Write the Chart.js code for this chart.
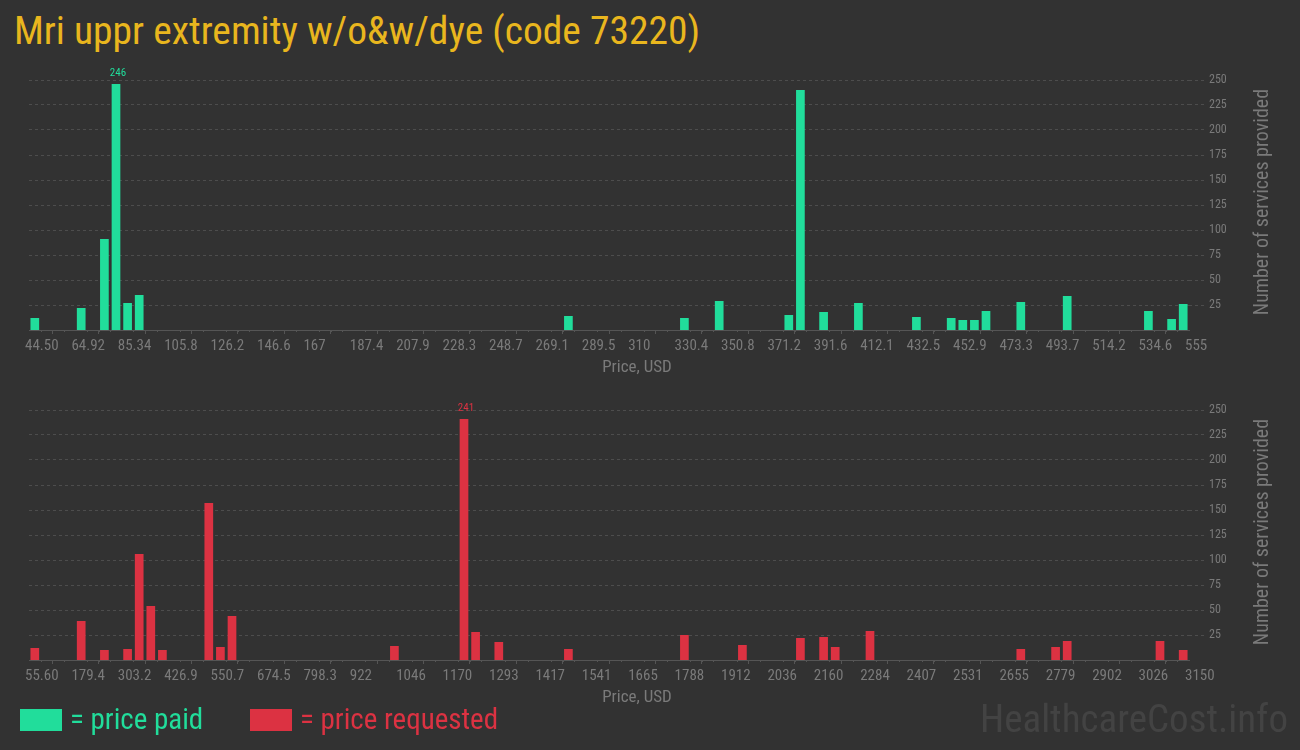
<!DOCTYPE html>
<html>
<head>
<meta charset="utf-8">
<script src="https://cdn.jsdelivr.net/npm/chart.js@4.4.1/dist/chart.umd.min.js"></script>
<style>
  body { margin: 0; background: #323232; width: 1300px; height: 750px; overflow: hidden; position: relative; }
  .narrow { font-family: "Roboto Condensed", "Liberation Sans Narrow", "DejaVu Sans Condensed", Roboto, sans-serif; }
  #title { position: absolute; left: 14px; top: 7px; font-size: 39.5px; color: #e9b61e; white-space: nowrap; }
  .box { position: absolute; left: 0; width: 1300px; height: 325px; }
  .legend { position: absolute; top: 702px; font-size: 29px; white-space: nowrap; }
  .legend span.sw { display: inline-block; width: 42px; height: 22px; vertical-align: -2px; margin-right: 8px; }
  #mark { position: absolute; left: 980px; top: 696px; font-size: 39px; color: #434343; white-space: nowrap; }
</style>
</head>
<body>
<div id="title" class="narrow">Mri uppr extremity w/o&amp;w/dye (code 73220)</div>
<div class="box" style="top:60px"><canvas id="paidChart" width="1300" height="325"></canvas></div>
<div class="box" style="top:390px"><canvas id="requestedChart" width="1300" height="325"></canvas></div>
<div class="legend narrow" style="left:20px;color:#21dd9b"><span class="sw" style="background:#21dd9b"></span>= price paid</div>
<div class="legend narrow" style="left:250px;color:#dc3242"><span class="sw" style="background:#dc3242"></span>= price requested</div>
<div id="mark" class="narrow">HealthcareCost.info</div>
<script>
const binCount = 100;

// price paid: histogram bin index -> number of services
const paidBins = [0, 4, 6, 7, 8, 9, 46, 56, 59, 65, 66, 68, 71, 76, 79, 80, 81, 82, 85, 89, 96, 98, 99];
const paidCounts = [12, 22, 91, 246, 27, 35, 14, 12, 29, 15, 240, 18, 27, 13, 12, 10, 10, 19, 28, 34, 19, 11, 26];
const paidTicks = ['44.50', '64.92', '85.34', '105.8', '126.2', '146.6', '167', '187.4', '207.9', '228.3', '248.7',
  '269.1', '289.5', '310', '330.4', '350.8', '371.2', '391.6', '412.1', '432.5', '452.9', '473.3', '493.7',
  '514.2', '534.6', '555'];

// price requested
const requestedBins = [0, 4, 6, 8, 9, 10, 11, 15, 16, 17, 31, 37, 38, 40, 46, 56, 61, 66, 68, 69, 72, 85, 88, 89, 97, 99];
const requestedCounts = [12, 39, 10, 11, 106, 54, 10, 157, 13, 44, 14, 241, 28, 18, 11, 25, 15, 22, 23, 13, 29, 11, 13, 19, 19, 10];
const requestedTicks = ['55.60', '179.4', '303.2', '426.9', '550.7', '674.5', '798.3', '922', '1046', '1170', '1293',
  '1417', '1541', '1665', '1788', '1912', '2036', '2160', '2284', '2407', '2531', '2655', '2779', '2902',
  '3026', '3150'];

const yTicks = [25, 50, 75, 100, 125, 150, 175, 200, 225, 250];

const narrow = '"Roboto Condensed", "Liberation Sans Narrow", "DejaVu Sans Condensed", Roboto, sans-serif';
Chart.defaults.font.family = narrow;
Chart.defaults.color = '#7a7a7a';

const decor = {
  id: 'decor',
  afterDraw(chart) {
    const {ctx, chartArea, scales} = chart;
    const x = scales.x;
    ctx.save();
    // minor ticks, one per bin
    ctx.strokeStyle = '#555555';
    ctx.lineWidth = 1;
    for (let i = 0; i <= binCount; i++) {
      if (i % 4 === 0) continue;
      const px = Math.round(x.getPixelForValue(i)) + 0.5;
      ctx.beginPath();
      ctx.moveTo(px, chartArea.bottom);
      ctx.lineTo(px, chartArea.bottom + 2);
      ctx.stroke();
    }
    // value above the tallest bar
    const ds = chart.data.datasets[0];
    let best = 0;
    ds.data.forEach((p, i) => { if (p.y > ds.data[best].y) best = i; });
    const bar = chart.getDatasetMeta(0).data[best];
    ctx.fillStyle = ds.backgroundColor;
    ctx.font = '11px ' + narrow;
    ctx.textAlign = 'center';
    ctx.textBaseline = 'alphabetic';
    ctx.fillText(String(ds.data[best].y), bar.x + 2, bar.y - 8);
    // axis titles
    ctx.fillStyle = '#7a7a7a';
    ctx.font = '17px ' + narrow;
    ctx.textBaseline = 'middle';
    ctx.fillText('Price, USD', 637, chartArea.bottom + 38);
    ctx.translate(1263, (chartArea.top + chartArea.bottom) / 2 - 3);
    ctx.rotate(-Math.PI / 2);
    ctx.font = '20px ' + narrow;
    ctx.fillText('Number of services provided', 0, 0);
    ctx.restore();
  }
};

function makeChart(id, bins, counts, ticks, color) {
  const ctx = document.getElementById(id).getContext('2d');
  return new Chart(ctx, {
    type: 'bar',
    data: {
      datasets: [{
        data: bins.map((b, i) => ({x: b + 0.5, y: counts[i]})),
        backgroundColor: color,
        barPercentage: 0.75,
        categoryPercentage: 1
      }]
    },
    options: {
      responsive: false,
      animation: false,
      layout: {padding: {left: 29, top: 20, right: 0, bottom: 0}},
      plugins: {legend: {display: false}, tooltip: {enabled: false}},
      scales: {
        x: {
          type: 'linear',
          min: 0,
          max: binCount,
          offset: false,
          afterFit: s => { s.height = 55; },
          border: {color: '#555555'},
          grid: {drawOnChartArea: false, tickLength: 4, color: '#555555'},
          ticks: {
            stepSize: 4,
            autoSkip: false,
            maxRotation: 0,
            align: 'start',
            labelOffset: -4,
            padding: 3,
            font: {size: 15},
            callback: (v, i) => ticks[i]
          }
        },
        y: {
          position: 'right',
          min: 0,
          max: 250,
          afterFit: s => { s.width = 111; },
          border: {display: false, dash: [3, 3]},
          grid: {
            color: c => c.tick && c.tick.value === 0 ? 'rgba(0,0,0,0)' : '#4d4d4d',
            tickBorderDash: [3, 3],
            tickLength: 17
          },
          afterBuildTicks: s => { s.ticks = yTicks.map(v => ({value: v})); },
          ticks: {padding: 3, font: {size: 12}}
        }
      }
    },
    plugins: [decor]
  });
}

makeChart('paidChart', paidBins, paidCounts, paidTicks, '#21dd9b');
makeChart('requestedChart', requestedBins, requestedCounts, requestedTicks, '#dc3242');
</script>
</body>
</html>
